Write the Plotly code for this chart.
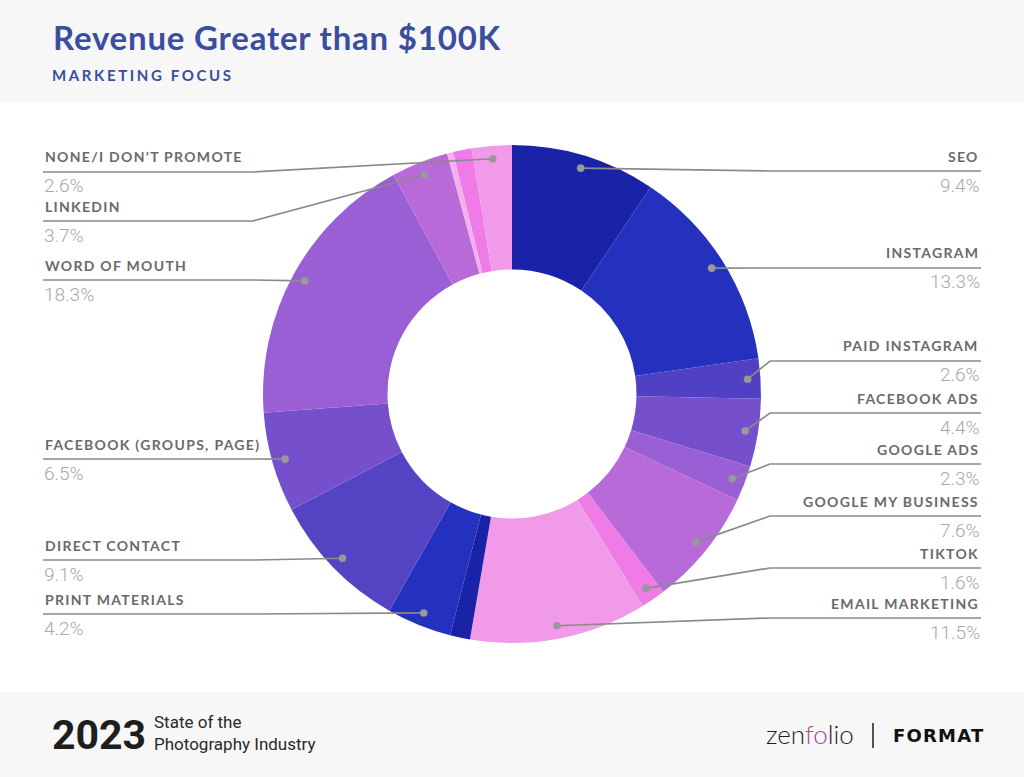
import math
import plotly.graph_objects as go

# ---------------- data ----------------
categories = [
    "SEO", "INSTAGRAM", "PAID INSTAGRAM", "FACEBOOK ADS", "GOOGLE ADS",
    "GOOGLE MY BUSINESS", "TIKTOK", "EMAIL MARKETING", "OTHER A",
    "PRINT MATERIALS", "DIRECT CONTACT", "FACEBOOK (GROUPS, PAGE)",
    "WORD OF MOUTH", "LINKEDIN", "OTHER B", "OTHER C", "NONE/I DON’T PROMOTE",
]
values = [9.4, 13.3, 2.6, 4.4, 2.3, 7.6, 1.6, 11.5, 1.3,
          4.2, 9.1, 6.5, 18.3, 3.7, 0.4, 1.2, 2.6]
labeled = [True] * 8 + [False] + [True] * 5 + [False, False, True]

# ---------------- styles / layout positions ----------------
colors = [
    "#1a22a8", "#2431bf", "#4f40c4", "#7650cc", "#9a5fd5", "#b86bd8",
    "#ee7be6", "#f09ae9", "#1a22a8", "#2431bf", "#5444c4", "#7650cc",
    "#9a5fd5", "#b86bd8", "#f4b0ee", "#ee7be6", "#f09ae9",
]
label_side = ["right"] * 8 + [None] + ["left"] * 5 + [None, None, "left"]
label_line_y = [171, 268, 361, 413, 464, 516, 568, 618, None,
                614, 560, 459, 280, 221, None, None, 172]

W, H = 1024, 777
CX, CY, R = 512, 394, 249
HOLE = 0.5
DOT_FRAC = 0.948
RIGHT_END, RIGHT_ELBOW = 981, 770
LEFT_END, LEFT_ELBOW = 43, 253

LINE_COLOR = "#8a8a8a"
NAME_COLOR = "#6a6a6a"
PCT_COLOR = "#a8a8a8"
TITLE_COLOR = "#3a4d9f"


def px(x):
    return x / W


def py(y):
    return 1 - y / H


fig = go.Figure()

fig.add_trace(go.Pie(
    labels=categories,
    values=values,
    sort=False,
    direction="clockwise",
    rotation=0,
    hole=HOLE,
    marker=dict(colors=colors, line=dict(width=0)),
    textinfo="none",
    hoverinfo="label+percent",
    showlegend=False,
    domain=dict(x=[px(CX - R), px(CX + R)], y=[py(CY + R), py(CY - R)]),
))

shapes = []
annotations = []

# background bands
shapes.append(dict(type="rect", xref="paper", yref="paper", x0=0, x1=1,
                   y0=py(102), y1=1, fillcolor="#f7f7f7", line=dict(width=0),
                   layer="below"))
shapes.append(dict(type="rect", xref="paper", yref="paper", x0=0, x1=1,
                   y0=0, y1=py(692), fillcolor="#f7f7f7", line=dict(width=0),
                   layer="below"))

total = sum(values)
cum = 0.0
for i, v in enumerate(values):
    mid = (cum + v / 2) / total * 2 * math.pi
    cum += v
    if not labeled[i]:
        continue
    dx = CX + DOT_FRAC * R * math.sin(mid)
    dy = CY - DOT_FRAC * R * math.cos(mid)
    ly = label_line_y[i]
    if label_side[i] == "right":
        elbow, end, anchor = RIGHT_ELBOW, RIGHT_END, "right"
    else:
        elbow, end, anchor = LEFT_ELBOW, LEFT_END, "left"
    path = f"M {px(dx)},{py(dy)} L {px(elbow)},{py(ly)} L {px(end)},{py(ly)}"
    shapes.append(dict(type="path", xref="paper", yref="paper", path=path,
                       line=dict(color=LINE_COLOR, width=1.7), layer="above"))
    rr = 3.8
    shapes.append(dict(type="circle", xref="paper", yref="paper",
                       x0=px(dx - rr), x1=px(dx + rr), y0=py(dy + rr), y1=py(dy - rr),
                       fillcolor="#999999", line=dict(width=0), layer="above"))
    annotations.append(dict(
        x=px(end), y=py(ly - 15), xref="paper", yref="paper",
        xanchor=anchor, yanchor="middle", showarrow=False,
        text=f'<span style="letter-spacing:1.3px">{categories[i]}</span>',
        font=dict(family="Lato", size=14, color=NAME_COLOR, weight=700),
    ))
    annotations.append(dict(
        x=px(end + (1 if anchor == "right" else -1)), y=py(ly + 14),
        xref="paper", yref="paper",
        xanchor=anchor, yanchor="middle", showarrow=False,
        text=f"{v:.1f}%",
        font=dict(family="Roboto", size=19, color=PCT_COLOR, weight=300),
    ))

# header
annotations.append(dict(
    x=px(51), y=py(37), xref="paper", yref="paper", xanchor="left", yanchor="middle",
    showarrow=False,
    text='<span style="letter-spacing:0.8px">Revenue Greater than $100K</span>',
    font=dict(family="Lato", size=33, color=TITLE_COLOR, weight=700),
))
annotations.append(dict(
    x=px(50), y=py(75), xref="paper", yref="paper", xanchor="left", yanchor="middle",
    showarrow=False,
    text='<span style="letter-spacing:2.6px">MARKETING FOCUS</span>',
    font=dict(family="Lato", size=15, color=TITLE_COLOR, weight=700),
))

# footer
annotations.append(dict(
    x=px(50), y=py(735), xref="paper", yref="paper", xanchor="left", yanchor="middle",
    showarrow=False, text="2023",
    font=dict(family="Roboto", size=41, color="#1e1e1e", weight=700),
))
annotations.append(dict(
    x=px(152), y=py(733), xref="paper", yref="paper", xanchor="left", yanchor="middle",
    showarrow=False, text="State of the<br>Photography Industry", align="left",
    font=dict(family="Roboto", size=17, color="#2a2a2a"),
))
annotations.append(dict(
    x=px(856), y=py(734), xref="paper", yref="paper", xanchor="right", yanchor="middle",
    showarrow=False,
    text='zen<span style="color:#c0409a">f</span><span style="color:#b03a9a">o</span>lio',
    font=dict(family="Lato", size=26, color="#1e1e1e", weight=300),
))
shapes.append(dict(type="line", xref="paper", yref="paper",
                   x0=px(873), x1=px(873), y0=py(723), y1=py(748),
                   line=dict(color="#1e1e1e", width=1.5), layer="above"))
annotations.append(dict(
    x=px(986), y=py(735), xref="paper", yref="paper", xanchor="right", yanchor="middle",
    showarrow=False,
    text='<span style="letter-spacing:1.2px">FORMAT</span>',
    font=dict(family="DejaVu Sans", size=18, color="#111111", weight=900),
))

fig.update_layout(
    width=W, height=H,
    margin=dict(l=0, r=0, t=0, b=0),
    paper_bgcolor="white",
    plot_bgcolor="white",
    shapes=shapes,
    annotations=annotations,
    showlegend=False,
)

fig.write_html("out.html")
